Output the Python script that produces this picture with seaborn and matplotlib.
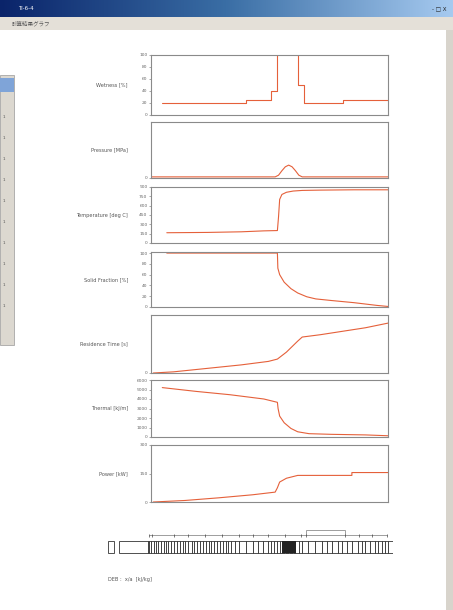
import numpy as np
import pandas as pd
import matplotlib.pyplot as plt
import seaborn as sns
from matplotlib.patches import Rectangle

# ---- data (x = position along the run, 0..100) ----
wet_x = [0, 37, 37, 48, 48, 51, 51, 60, 60, 63, 63, 80, 80, 100]
wet_y = [20, 20, 25, 25, 40, 40, 130, 130, 50, 50, 20, 20, 25, 25]

pres_x = [-5, 20, 45, 50, 51.5, 53, 54.5, 56, 57.5, 59, 60.5, 62, 70, 100]
pres_y = [0.02, 0.02, 0.02, 0.02, 0.05, 0.13, 0.2, 0.23, 0.2, 0.13, 0.05, 0.02, 0.02, 0.02]

temp_x = [2, 20, 35, 45, 51, 51.5, 52, 53, 55, 58, 62, 70, 85, 100]
temp_y = [165, 170, 180, 195, 200, 420, 700, 780, 815, 835, 845, 850, 855, 855]

solid_x = [2, 20, 40, 51, 51.2, 52, 54, 57, 60, 64, 68, 75, 85, 95, 100]
solid_y = [100, 100, 100, 100, 72, 60, 46, 34, 26, 19, 15, 12, 8, 3, 1]

res_x = [-4, 5, 20, 35, 47, 51, 55, 60, 62, 70, 80, 90, 100]
res_y = [0, 2, 8, 14, 20, 24, 36, 55, 62, 66, 72, 78, 86]

therm_x = [0, 15, 30, 45, 51, 51.3, 52, 54, 57, 60, 65, 75, 90, 100]
therm_y = [5200, 4800, 4450, 4000, 3650, 3000, 2200, 1500, 900, 550, 350, 280, 220, 130]

pow_x = [-4, 10, 25, 40, 50, 51, 52, 55, 60, 70, 80, 84, 84, 100]
pow_y = [0, 8, 22, 38, 52, 75, 105, 125, 140, 140, 140, 140, 155, 155]

panel_labels = ["Wetness [%]", "Pressure [MPa]", "Temperature [deg C]",
                "Solid Fraction [%]", "Residence Time [s]", "Thermal [kJ/m]",
                "Power [kW]"]

# bottom state strip: element borders and bracket ticks (strip units 0..100)
strip_lines = [14, 14.5, 15, 16, 16.8, 17.6, 18.5, 19.5, 20.3, 21.2, 22.2, 23.2,
               24.2, 25.3, 26.2, 27.1, 28.2, 29.3, 30.3, 31.2, 32.2, 33.4, 34.4,
               35.3, 36.3, 37.3, 38.2, 39.3, 40.5, 41.3, 42.2, 43.3, 44.6, 46,
               48.5, 50.8, 52.6, 54.3, 56, 57.1, 58.3, 59.4, 60.3, 61, 61.5, 61.9,
               62.4, 62.8, 63.3, 63.7, 64.2, 64.6, 65.2, 65.7, 66.9, 68, 70.3,
               72.7, 75, 76.8, 78.5, 80.8, 82, 83.7, 85.5, 87.8, 89, 90.2, 91.9,
               93.6, 94.8, 96, 97.2, 98.1]
dark_block = (61, 66)
bracket_ticks = [14.5, 15.6, 23, 28.2, 34, 40, 45.8, 51, 56.3, 62, 67.8, 69.5,
                 83, 88.2, 92.5, 98]
bracket_high = (69.5, 83)

sns.set_theme(style="white")
plt.rcParams['font.family'] = ['DejaVu Sans']

W, H = 453, 610
fig = plt.figure(figsize=(W / 100, H / 100), dpi=100)
fig.patch.set_facecolor("white")

def px_axes(left, top, right, bottom):
    return fig.add_axes([left / W, 1 - bottom / H, (right - left) / W, (bottom - top) / H])

# ---- window chrome ----
grad = np.linspace(0, 1, 256).reshape(1, -1)
tb = fig.add_axes([0, 1 - 17 / H, 1, 17 / H])
tb.imshow(grad, aspect="auto", cmap=sns.blend_palette(["#0a246a", "#3a6ea5", "#a6caf0"], as_cmap=True))
tb.axis("off")
tb.text(0.04, 0.5, "Ti-6-4", color="white", fontsize=4, va="center", transform=tb.transAxes)
tb.text(0.985, 0.5, "- □ X", color="#222222", fontsize=4, va="center", ha="right",
        transform=tb.transAxes)
fig.patches.append(Rectangle((0, 1 - 30 / H), 1, 13 / H, transform=fig.transFigure,
                             facecolor="#e4e0d8", edgecolor="none"))
fig.text(12 / W, 1 - 24 / H, "計算結果グラフ", fontsize=4, color="#555555", va="center",
         family=['Noto Sans CJK JP', 'DejaVu Sans'])
fig.patches.append(Rectangle((446 / W, 0), 7 / W, 1 - 30 / H, transform=fig.transFigure,
                             facecolor="#d8d4cc", edgecolor="none"))
fig.patches.append(Rectangle((0, 1 - 345 / H), 14 / W, 270 / H, transform=fig.transFigure,
                             facecolor="#dcd8d0", edgecolor="#999999", linewidth=0.5))
fig.patches.append(Rectangle((0, 1 - 92 / H), 14 / W, 14 / H, transform=fig.transFigure,
                             facecolor="#7fa4d8", edgecolor="none"))
for i in range(10):
    fig.text(3 / W, 1 - (118 + i * 21) / H, "1", fontsize=3, color="#555555")

# ---- the seven stacked panels ----
line_color = "#e5603a"
spine_color = "#8a8a8a"
panels = [
    (wet_x, wet_y, (55, 115), (0, 100), [0, 20, 40, 60, 80, 100]),
    (pres_x, pres_y, (122, 178), (0, 1), [0]),
    (temp_x, temp_y, (187, 243), (0, 900), [0, 150, 300, 450, 600, 750, 900]),
    (solid_x, solid_y, (252, 307), (0, 102), [0, 20, 40, 60, 80, 100]),
    (res_x, res_y, (315, 373), (0, 100), [0]),
    (therm_x, therm_y, (380, 437), (0, 6000), [0, 1000, 2000, 3000, 4000, 5000, 6000]),
    (pow_x, pow_y, (445, 502), (0, 300), [0, 150, 300]),
]
for (xs, ys, (top, bot), ylim, ticks), label in zip(panels, panel_labels):
    ax = px_axes(151, top, 388, bot)
    df = pd.DataFrame({"x": xs, "y": ys})
    sns.lineplot(data=df, x="x", y="y", ax=ax, color=line_color, linewidth=0.8,
                 sort=False, estimator=None)
    ax.set_xlim(-5, 100)
    ax.set_ylim(*ylim)
    ax.set_yticks(ticks)
    ax.set_yticklabels([str(t) for t in ticks], fontsize=3.2, color="#666666")
    ax.tick_params(axis="y", length=1.5, width=0.4, pad=1, colors="#666666", left=True)
    ax.set_xticks([])
    ax.set_xlabel("")
    ax.set_ylabel("")
    for s in ax.spines.values():
        s.set_color(spine_color)
        s.set_linewidth(0.8)
    ax.set_facecolor("white")
    fig.text(128 / W, 1 - ((top + bot) / 2) / H, label, fontsize=3.6, color="#555555",
             ha="right", va="center")

# ---- bottom state strip ----
sx = px_axes(108, 525, 393, 556)
sx.set_xlim(0, 100)
sx.set_ylim(0, 1)
sx.axis("off")
sx.add_patch(Rectangle((0, 0.1), 2, 0.4, fill=False, edgecolor="#333333", linewidth=0.6))
sx.add_patch(Rectangle((4, 0.1), 96, 0.4, fill=False, edgecolor="#333333", linewidth=0.6))
sx.vlines(strip_lines, 0.1, 0.5, color="#222222", linewidth=0.6)
sx.add_patch(Rectangle((dark_block[0], 0.1), dark_block[1] - dark_block[0], 0.4,
                       facecolor="#222222", edgecolor="none"))
sx.hlines(0.68, 14.5, 98, color="#555555", linewidth=0.4)
sx.vlines(bracket_ticks, 0.62, 0.72, color="#444444", linewidth=0.5)
sx.hlines(0.85, bracket_high[0], bracket_high[1], color="#555555", linewidth=0.4)
sx.vlines(list(bracket_high), 0.68, 0.85, color="#555555", linewidth=0.4)

fig.text(108 / W, 1 - 580 / H, "DEB :  x/a  [kJ/kg]", fontsize=3.6, color="#555555",
         va="center")

fig.savefig("out.png", dpi=100)
